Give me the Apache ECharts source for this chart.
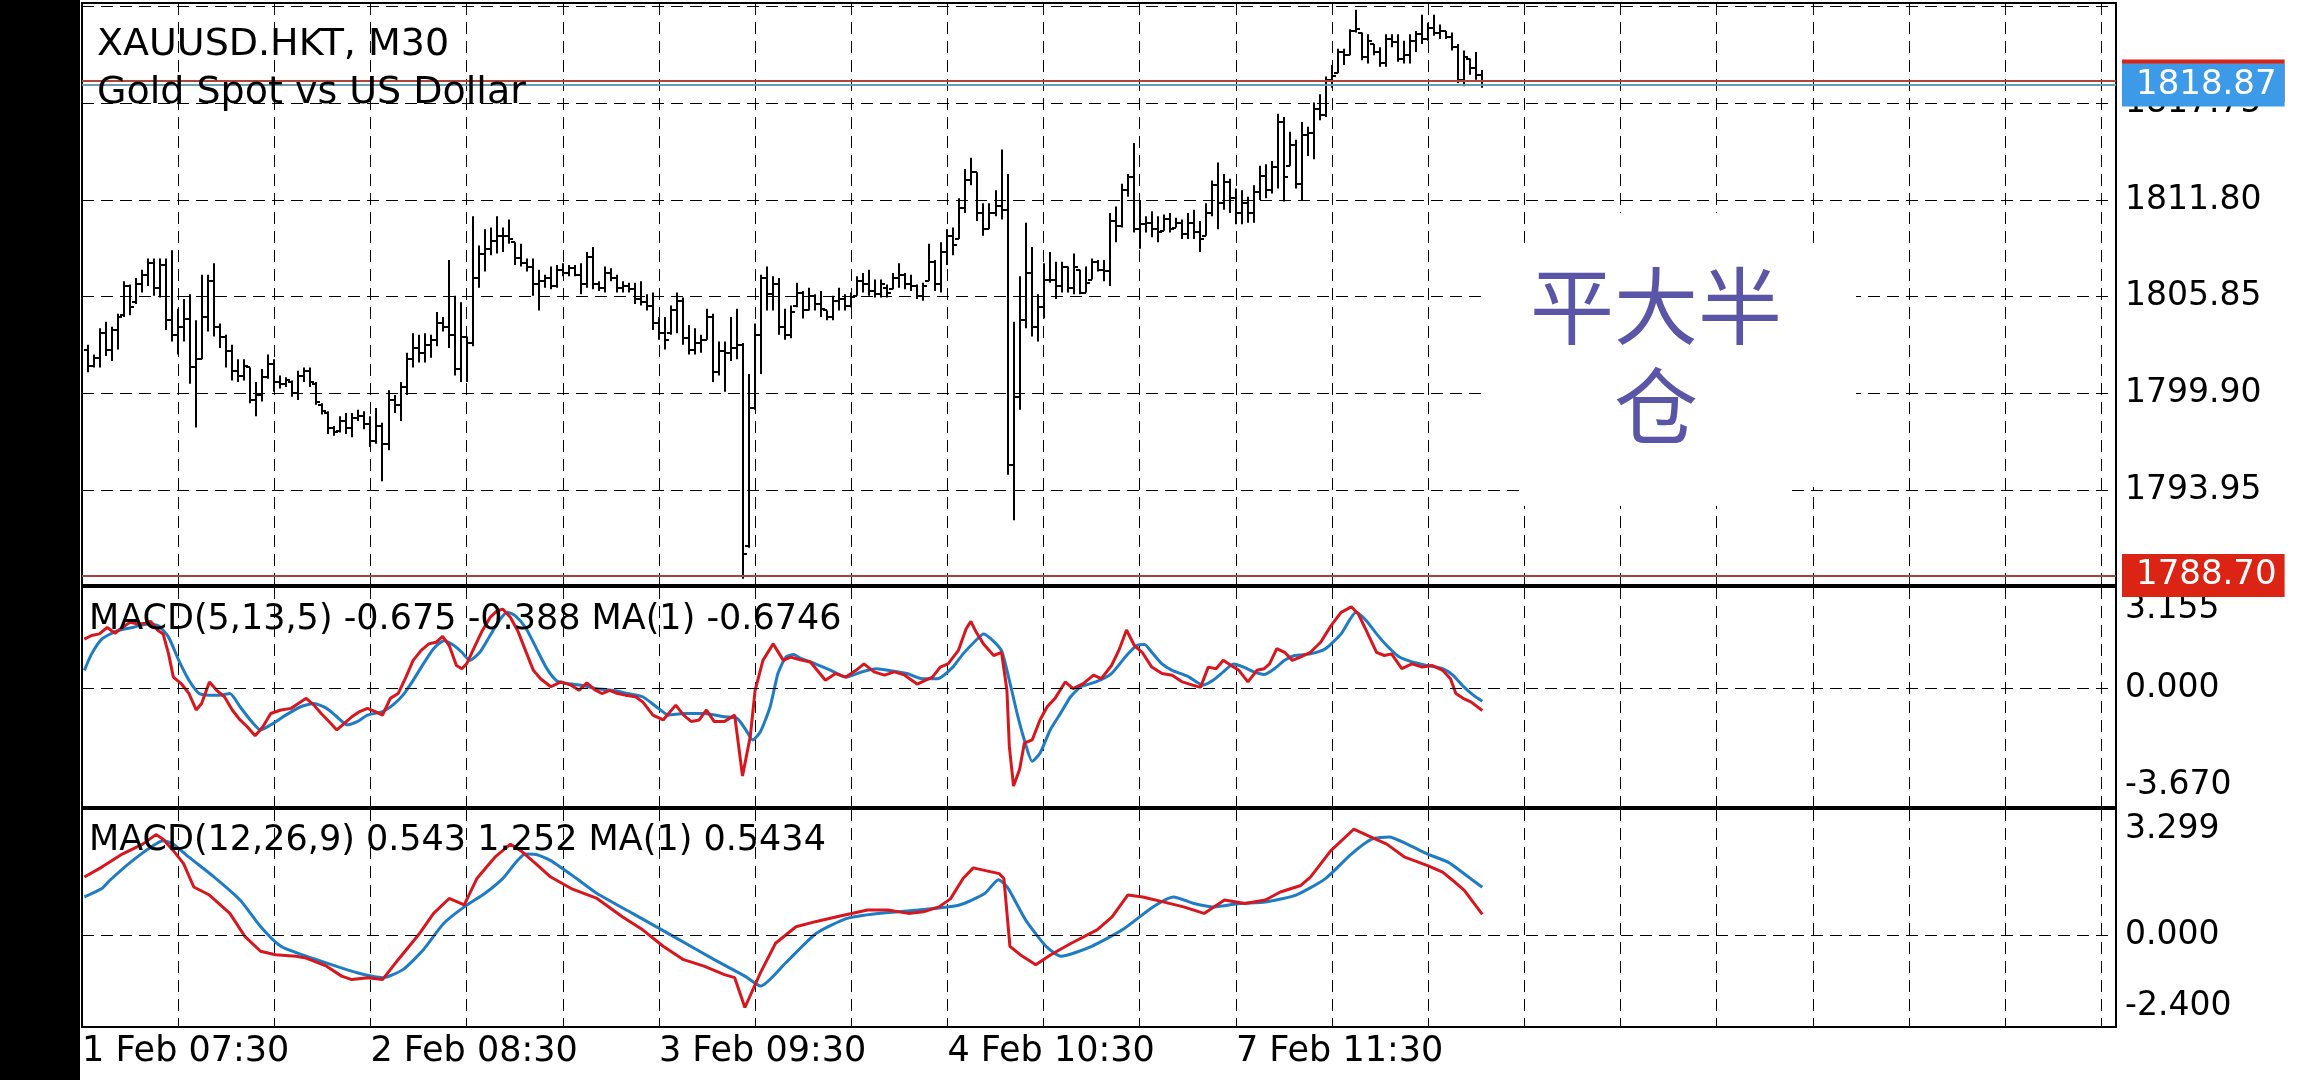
<!DOCTYPE html>
<html><head><meta charset="utf-8">
<script src="https://cdn.jsdelivr.net/npm/echarts@6/dist/echarts.min.js"></script>
<style>html,body{margin:0;padding:0;background:#fff;}#c{width:2312px;height:1080px;}</style>
</head><body><div id="c"></div>
<script>
// ---- data (M30 bars, index 0 = 1 Feb 07:30) ----
const barStart = 1;
const opens = [
1802.6,1801.6,1802.1,1803.6,1802.6,1803.8,1804.7,1806.5,1805.5,1806.6,
1807.2,1807.9,1806.4,1807.8,1804.4,1803.5,1804.0,1804.5,1801.5,1802.0,
1804.6,1806.8,1804.0,1803.4,1802.5,1801.3,1801.0,1801.5,1799.5,1799.8,
1800.9,1801.7,1800.6,1800.5,1800.6,1799.9,1801.0,1801.3,1800.5,1799.2,
1798.7,1797.8,1797.6,1798.2,1797.8,1798.4,1798.5,1798.0,1797.0,1797.9,
1796.8,1799.5,1799.2,1800.3,1802.0,1802.7,1802.4,1802.9,1803.2,1804.2,
1804.0,1803.5,1801.4,1803.4,1803.0,1807.0,1808.5,1808.8,1809.3,1809.6,
1809.6,1809.2,1808.2,1807.9,1807.7,1806.6,1806.8,1807.0,1806.5,1807.5,
1807.3,1807.6,1807.2,1806.6,1808.3,1806.6,1806.4,1807.3,1807.0,1806.4,
1806.5,1806.3,1805.7,1805.5,1805.3,1804.2,1803.6,1803.6,1805.0,1805.6,
1803.3,1802.6,1803.0,1803.2,1804.6,1801.2,1802.5,1802.4,1802.7,1802.9,
1790.5,1799.0,1803.5,1807.0,1806.0,1806.6,1804.0,1803.5,1805.3,1806.1,
1805.0,1805.9,1805.4,1805.0,1804.6,1805.6,1805.7,1805.3,1805.9,1806.8,
1806.6,1806.2,1806.0,1806.4,1806.3,1807.0,1807.2,1806.6,1806.5,1805.9,
1806.8,1808.0,1806.6,1808.6,1809.6,1809.4,1811.3,1813.0,1813.5,1811.0,
1810.0,1811.0,1811.4,1811.2,1795.5,1799.7,1804.4,1807.3,1804.0,1805.2,
1806.9,1806.9,1806.5,1807.7,1806.4,1807.5,1806.1,1806.9,1808.0,1807.5,
1807.4,1810.5,1810.2,1812.4,1813.2,1810.0,1810.3,1810.4,1810.0,1809.9,
1810.6,1810.1,1810.4,1809.7,1810.4,1809.8,1809.6,1811.0,1812.7,1811.6,
1812.9,1811.9,1811.0,1811.6,1811.0,1812.3,1813.3,1812.4,1813.8,1816.6,
1813.9,1815.2,1812.8,1815.8,1815.9,1817.4,1817.0,1819.2,1819.6,1820.9,
1820.7,1822.2,1822.1,1820.6,1821.4,1820.9,1820.2,1821.7,1821.5,1820.5,
1820.7,1821.6,1822.0,1821.7,1822.4,1822.1,1822.2,1821.8,1821.2,1819.2,
1820.5,1819.9,1819.5];
const highs = [
1802.9,1802.3,1803.9,1804.3,1804.0,1804.8,1806.8,1806.6,1807.0,1807.5,
1808.2,1808.2,1808.2,1808.2,1808.7,1805.1,1805.7,1806.0,1804.4,1807.2,
1807.2,1807.9,1804.2,1803.5,1802.9,1802.0,1802.0,1801.5,1800.6,1801.4,
1802.3,1802.0,1801.0,1800.9,1800.7,1801.3,1801.5,1801.5,1800.6,1799.3,
1798.8,1797.9,1798.5,1798.7,1798.7,1798.9,1798.8,1798.5,1799.0,1798.1,
1800.1,1799.8,1800.6,1802.4,1803.6,1803.5,1803.6,1803.5,1804.9,1804.6,
1808.1,1805.9,1805.5,1803.4,1810.8,1809.0,1810.0,1810.1,1810.8,1810.1,
1810.6,1809.2,1809.1,1808.2,1808.2,1807.5,1807.2,1807.7,1807.8,1807.9,
1807.8,1807.8,1807.9,1808.6,1808.9,1806.8,1807.7,1807.6,1807.2,1806.8,
1806.7,1806.7,1806.8,1806.0,1806.1,1804.6,1804.6,1805.3,1806.1,1805.8,
1804.1,1803.9,1803.5,1805.1,1804.8,1803.1,1803.1,1804.6,1805.1,1803.0,
1801.1,1804.2,1807.2,1807.7,1807.1,1807.0,1805.1,1805.3,1806.7,1806.2,
1806.4,1806.0,1806.2,1805.0,1805.9,1806.4,1806.0,1806.1,1807.1,1807.3,
1807.5,1806.9,1806.9,1806.6,1807.3,1807.9,1807.3,1807.2,1806.6,1806.7,
1809.1,1808.1,1809.2,1810.0,1810.1,1811.9,1813.7,1814.4,1813.5,1811.6,
1811.6,1812.4,1814.9,1813.4,1804.3,1807.1,1810.4,1808.9,1806.0,1807.9,
1808.6,1808.0,1808.0,1807.7,1808.5,1807.5,1807.7,1808.2,1808.1,1808.1,
1811.0,1811.4,1812.8,1813.4,1815.3,1811.8,1810.8,1811.1,1810.8,1810.9,
1811.0,1810.7,1810.6,1811.0,1811.2,1810.5,1811.6,1813.0,1814.1,1813.4,
1813.1,1812.5,1812.4,1812.0,1812.7,1813.9,1814.0,1814.2,1817.1,1816.9,
1816.0,1815.5,1816.6,1816.3,1817.8,1818.3,1819.4,1820.1,1821.1,1821.1,
1822.3,1823.5,1822.1,1822.0,1821.4,1821.2,1822.0,1822.0,1822.0,1821.6,
1822.0,1822.2,1823.2,1822.7,1823.2,1822.6,1822.2,1822.1,1821.4,1821.0,
1820.5,1820.9,1819.8];
const lows = [
1801.2,1801.5,1801.5,1802.2,1801.9,1802.6,1804.6,1804.7,1805.4,1806.1,
1806.5,1805.9,1805.8,1803.8,1803.1,1802.3,1803.1,1800.5,1797.8,1802.0,
1803.7,1803.4,1802.7,1801.5,1800.7,1800.6,1800.7,1799.3,1798.5,1799.4,
1800.8,1800.0,1800.2,1800.3,1799.7,1799.5,1800.6,1800.3,1799.2,1798.6,
1797.4,1797.3,1797.5,1797.4,1797.2,1798.2,1797.7,1796.6,1796.8,1794.5,
1796.4,1798.7,1798.2,1799.8,1801.5,1801.8,1801.8,1802.1,1802.8,1803.7,
1802.7,1801.0,1800.6,1800.6,1802.8,1806.4,1807.4,1808.4,1808.5,1808.6,
1809.1,1807.8,1807.7,1807.4,1805.9,1805.0,1806.4,1806.3,1806.4,1807.1,
1807.1,1807.1,1806.0,1806.4,1806.3,1806.2,1806.1,1806.8,1806.1,1806.1,
1806.1,1805.4,1805.3,1805.0,1803.8,1803.2,1802.6,1803.5,1803.6,1802.9,
1802.3,1802.3,1802.4,1803.2,1800.6,1801.0,1800.0,1801.9,1802.0,1788.5,
1790.4,1798.9,1801.1,1805.0,1805.0,1803.5,1803.2,1803.3,1805.2,1804.5,
1805.0,1805.0,1804.6,1804.4,1804.4,1805.0,1805.0,1805.2,1805.9,1806.1,
1805.9,1805.8,1805.8,1805.8,1806.3,1806.4,1806.3,1806.2,1805.7,1805.6,
1806.8,1806.2,1806.1,1807.8,1808.4,1809.4,1811.0,1812.7,1810.5,1809.6,
1810.0,1810.8,1810.6,1794.9,1792.1,1798.9,1803.9,1803.4,1803.1,1804.5,
1806.7,1805.7,1806.1,1806.1,1806.0,1806.0,1806.1,1806.9,1807.4,1806.8,
1806.5,1809.2,1810.1,1812.0,1809.8,1808.8,1809.8,1809.5,1809.2,1809.9,
1809.8,1810.1,1809.4,1809.4,1809.4,1808.6,1809.6,1810.8,1810.0,1811.2,
1811.0,1810.3,1810.3,1810.4,1810.4,1811.8,1811.9,1812.2,1812.5,1811.7,
1813.9,1812.5,1811.8,1814.5,1814.3,1816.7,1816.9,1818.7,1819.6,1820.1,
1820.7,1822.1,1820.4,1820.2,1820.7,1820.0,1820.0,1821.2,1820.3,1820.2,
1820.2,1820.9,1821.4,1821.6,1821.9,1821.7,1821.7,1821.0,1819.0,1818.8,
1819.5,1819.2,1818.7];
const closes = [
1801.6,1802.1,1803.6,1802.6,1803.8,1804.6,1806.5,1805.2,1806.6,1807.2,
1807.9,1806.4,1807.8,1804.4,1803.5,1804.0,1804.5,1801.5,1802.0,1804.6,
1806.8,1804.0,1803.4,1802.5,1801.3,1801.0,1801.6,1799.5,1799.8,1800.9,
1801.7,1800.6,1800.5,1800.7,1799.9,1801.0,1801.3,1800.6,1799.4,1798.8,
1797.8,1797.5,1798.2,1797.8,1798.4,1798.5,1798.0,1797.0,1797.9,1796.8,
1799.5,1799.2,1800.3,1802.0,1802.7,1802.4,1802.9,1803.2,1804.2,1804.0,
1803.5,1801.4,1803.4,1803.0,1807.0,1808.5,1808.8,1809.3,1809.6,1809.6,
1809.4,1808.2,1807.9,1807.7,1806.6,1806.8,1807.0,1806.5,1807.5,1807.3,
1807.6,1807.2,1806.6,1808.3,1806.6,1806.4,1807.3,1807.0,1806.4,1806.5,
1806.3,1805.7,1805.5,1805.3,1804.2,1803.6,1803.2,1805.0,1805.6,1803.3,
1802.6,1803.0,1803.2,1804.6,1801.2,1802.5,1802.4,1802.7,1802.9,1790.0,
1799.0,1803.5,1807.0,1806.0,1806.6,1804.0,1803.5,1804.9,1806.1,1805.0,
1805.9,1805.4,1805.1,1804.6,1805.6,1805.7,1805.3,1805.8,1806.8,1806.6,
1806.2,1806.0,1806.6,1806.1,1807.0,1807.2,1806.6,1806.5,1805.9,1806.5,
1808.0,1806.6,1808.6,1809.6,1809.0,1811.3,1813.0,1813.5,1811.0,1810.0,
1811.0,1811.4,1811.2,1795.5,1799.7,1804.4,1807.3,1804.0,1805.2,1806.9,
1806.9,1806.5,1807.7,1806.4,1807.7,1806.1,1806.7,1808.0,1807.5,1807.4,
1810.5,1810.2,1812.4,1813.2,1810.0,1810.3,1810.4,1810.0,1809.8,1810.6,
1810.0,1810.4,1809.7,1810.4,1809.8,1809.4,1811.0,1812.7,1811.6,1812.9,
1811.9,1811.0,1811.6,1811.0,1812.3,1813.3,1812.4,1813.8,1816.6,1813.2,
1815.2,1812.8,1815.8,1815.9,1817.4,1817.0,1819.2,1819.4,1820.9,1820.7,
1822.2,1822.3,1820.6,1821.6,1820.9,1820.2,1821.7,1821.5,1820.5,1820.7,
1821.6,1822.0,1821.7,1822.4,1822.1,1822.2,1821.8,1821.2,1819.2,1820.6,
1819.9,1819.5,1818.87];

const timeLabels = ['1 Feb 07:30','2 Feb 08:30','3 Feb 09:30','4 Feb 10:30','7 Feb 11:30'];
const timeLabelBars = [0,48,96,144,192];
const priceGrid = [1793.95,1799.90,1805.85,1811.80,1817.75,1823.70];
const priceLabelled = [1793.95,1799.90,1805.85,1811.80,1817.75];
const bidPrice = 1818.87;
const askPrice = 1819.12;
const lowLevel = 1788.70;
const macd1Range = [-3.670, 3.155];
const macd2Range = [-2.400, 3.299];

// MACD(5,13,5): [bar, value]
const macd1Main = [[0.4,1.54],[1.6,1.65],[2.9,1.70],[4.2,1.90],[5.5,1.72],[6.7,1.90],[8.0,2.06],[9.3,2.01],[10.6,2.03],[11.4,2.09],[12.7,1.80],[13.5,1.70],[14.4,1.08],[15.2,0.36],[16.5,0.16],[17.8,-0.15],[19.0,-0.66],[19.9,-0.46],[21.2,0.21],[22.4,-0.05],[23.7,-0.25],[25.0,-0.66],[26.3,-0.97],[27.5,-1.18],[28.8,-1.46],[30.1,-1.18],[31.4,-0.77],[33.1,-0.66],[34.8,-0.61],[36.0,-0.46],[37.3,-0.30],[38.6,-0.51],[39.8,-0.77],[41.1,-1.02],[42.4,-1.28],[43.7,-1.07],[44.9,-0.87],[46.2,-0.71],[47.5,-0.61],[48.8,-0.71],[50.0,-0.82],[51.3,-0.30],[52.6,-0.15],[53.9,0.36],[55.1,0.88],[56.4,1.18],[57.7,1.39],[58.9,1.44],[60.0,1.62],[61.1,1.34],[62.3,0.72],[63.2,0.62],[64.0,0.77],[65.3,1.29],[66.6,1.80],[67.9,2.21],[69.1,2.42],[70.0,2.47],[71.3,2.21],[72.5,1.80],[73.8,1.18],[75.1,0.57],[76.3,0.31],[78.0,0.06],[79.7,0.21],[81.4,0.11],[82.7,-0.05],[84.0,0.18],[85.3,-0.03],[86.5,-0.15],[87.8,-0.05],[89.1,-0.15],[90.4,-0.20],[92.1,-0.25],[93.3,-0.41],[95.0,-0.82],[96.7,-0.97],[97.6,-0.77],[98.8,-0.51],[100.1,-0.82],[101.4,-1.02],[102.7,-0.97],[103.9,-0.66],[105.2,-1.02],[106.9,-1.02],[108.6,-0.82],[109.9,-2.71],[111.2,-1.48],[112.0,-0.05],[113.3,0.88],[115.0,1.39],[116.7,0.88],[117.9,0.98],[119.5,0.90],[121.2,0.83],[123.7,0.26],[125.4,0.47],[127.1,0.36],[128.8,0.57],[130.1,0.77],[131.8,0.52],[133.5,0.42],[135.2,0.52],[136.9,0.42],[139.0,0.14],[140.3,0.26],[141.5,0.36],[142.8,0.67],[144.1,0.77],[145.8,1.18],[147.1,1.85],[147.9,2.09],[148.8,1.75],[150.0,1.39],[151.7,1.03],[153.0,1.13],[153.9,-0.05],[154.3,-1.79],[155.0,-3.02],[156.0,-2.51],[156.8,-1.69],[158.1,-1.59],[159.4,-0.97],[160.6,-0.56],[161.9,-0.30],[163.6,0.21],[164.9,0.00],[166.6,0.16],[168.3,0.42],[169.6,0.31],[171.3,0.72],[172.5,1.18],[173.8,1.82],[175.1,1.34],[176.4,1.13],[178.0,0.67],[179.7,0.47],[181.4,0.42],[183.1,0.21],[184.8,0.11],[186.1,0.04],[187.4,0.67],[188.7,0.62],[189.9,0.88],[191.2,0.72],[192.5,0.57],[194.0,0.21],[195.5,0.57],[196.7,0.62],[197.6,0.77],[198.8,1.24],[200.1,1.13],[201.4,0.88],[202.7,0.98],[204.4,1.13],[206.1,1.44],[207.8,1.95],[209.5,2.37],[211.2,2.54],[212.4,2.31],[213.7,1.80],[215.4,1.13],[216.7,1.03],[217.9,1.08],[219.6,0.62],[221.3,0.77],[223.0,0.67],[224.7,0.72],[226.4,0.57],[227.7,0.31],[228.6,-0.15],[229.8,-0.30],[231.1,-0.41],[233.0,-0.675]];
const macd1Signal = [[0.4,0.57],[1.6,1.08],[3.3,1.54],[5.9,1.80],[8.4,1.90],[11.0,2.01],[12.7,1.95],[14.4,1.60],[16.1,0.88],[17.8,0.26],[19.5,-0.15],[21.2,-0.20],[22.9,-0.20],[24.6,-0.15],[26.3,-0.56],[28.0,-0.97],[29.7,-1.28],[31.4,-1.12],[33.9,-0.82],[36.4,-0.56],[38.6,-0.46],[40.7,-0.61],[42.4,-0.87],[44.1,-1.12],[45.8,-1.02],[47.5,-0.82],[50.0,-0.71],[51.7,-0.51],[53.4,-0.20],[55.1,0.26],[56.8,0.77],[58.5,1.24],[60.2,1.49],[61.9,1.34],[63.2,1.13],[64.5,0.88],[66.2,1.13],[67.9,1.65],[69.6,2.16],[70.8,2.37],[72.1,2.26],[73.8,1.90],[75.5,1.29],[77.2,0.67],[78.9,0.26],[80.6,0.16],[83.1,0.11],[85.7,0.00],[88.2,-0.05],[90.8,-0.15],[93.3,-0.25],[95.9,-0.61],[97.6,-0.82],[100.1,-0.77],[103.5,-0.77],[106.9,-0.87],[109.0,-0.92],[110.3,-1.23],[111.6,-1.59],[112.9,-1.33],[114.5,-0.56],[115.8,0.47],[117.1,0.98],[118.4,1.06],[119.5,0.95],[122.0,0.77],[124.6,0.57],[127.1,0.36],[129.7,0.52],[132.2,0.62],[134.8,0.55],[137.3,0.47],[139.8,0.31],[142.4,0.31],[144.9,0.67],[146.6,1.08],[148.8,1.51],[150.0,1.70],[151.3,1.54],[153.0,1.18],[154.3,0.26],[155.6,-0.77],[156.8,-1.59],[158.1,-2.25],[159.4,-2.00],[161.1,-1.28],[162.8,-0.77],[164.5,-0.25],[166.2,0.06],[168.7,0.21],[171.3,0.47],[173.8,1.03],[175.5,1.34],[176.8,1.37],[178.0,1.13],[179.7,0.77],[181.4,0.57],[184.0,0.38],[186.5,0.11],[188.2,0.26],[189.9,0.52],[191.6,0.77],[193.3,0.67],[195.0,0.52],[196.7,0.44],[198.4,0.62],[200.1,0.88],[201.8,1.03],[204.4,1.08],[206.9,1.24],[209.5,1.70],[212.0,2.37],[213.7,2.11],[215.4,1.70],[217.1,1.34],[219.2,0.98],[221.3,0.83],[223.9,0.72],[226.4,0.62],[228.1,0.42],[229.8,0.08],[231.5,-0.20],[233.0,-0.388]];
// MACD(12,26,9): [bar, value]
const macd2Main = [[0.4,1.52],[3.3,1.78],[6.7,2.12],[10.1,2.38],[12.3,2.63],[13.5,2.51],[15.2,2.21],[16.9,1.87],[18.6,1.26],[21.2,1.05],[24.6,0.57],[27.1,-0.03],[29.7,-0.42],[32.2,-0.51],[35.6,-0.55],[37.3,-0.60],[40.7,-0.81],[43.2,-1.07],[44.9,-1.16],[47.5,-1.11],[50.0,-1.16],[52.6,-0.64],[56.0,0.01],[58.5,0.57],[61.1,0.96],[63.6,0.79],[65.7,1.48],[68.7,2.04],[71.3,2.38],[73.0,2.21],[75.5,1.87],[78.0,1.52],[81.4,1.22],[85.7,0.96],[89.9,0.48],[93.3,0.14],[96.7,-0.29],[100.1,-0.64],[103.5,-0.81],[106.9,-1.03],[108.6,-1.11],[110.3,-1.89],[112.9,-0.98],[115.4,-0.21],[118.8,0.22],[122.2,0.36],[125.6,0.48],[130.7,0.66],[134.1,0.66],[137.5,0.57],[140.0,0.61],[142.6,0.74],[144.5,0.95],[146.6,1.48],[148.3,1.76],[152.6,1.61],[153.4,1.48],[154.4,-0.29],[156.1,-0.51],[158.7,-0.77],[161.2,-0.51],[164.6,-0.21],[168.9,0.14],[171.4,0.48],[174.0,1.05],[176.5,1.00],[179.9,0.87],[183.3,0.74],[186.7,0.57],[190.1,0.92],[193.5,0.83],[196.9,0.92],[199.4,1.13],[202.8,1.30],[204.4,1.52],[207.8,2.21],[211.6,2.77],[214.6,2.56],[217.1,2.38],[220.1,2.04],[223.9,1.82],[226.4,1.65],[228.1,1.43],[230.0,1.17],[233.0,0.543]];
const macd2Signal = [[0.4,1.00],[3.3,1.22],[4.6,1.43],[8.4,1.95],[11.8,2.34],[13.5,2.47],[15.2,2.38],[17.8,2.04],[22.0,1.52],[26.3,0.92],[29.7,0.23],[33.1,-0.29],[37.3,-0.55],[41.5,-0.77],[45.8,-0.98],[50.0,-1.11],[53.4,-0.90],[56.8,-0.38],[60.2,0.31],[63.6,0.74],[67.0,1.09],[70.0,1.48],[73.8,2.12],[75.5,2.11],[78.0,1.95],[82.3,1.48],[85.7,1.09],[91.6,0.57],[98.4,-0.03],[105.2,-0.64],[110.3,-1.07],[112.9,-1.33],[117.1,-0.72],[122.2,0.05],[127.3,0.44],[132.4,0.57],[139.2,0.66],[146.0,0.79],[150.2,1.09],[152.5,1.45],[154.0,1.25],[157.0,0.40],[160.4,-0.29],[162.9,-0.55],[168.0,-0.29],[173.1,0.14],[178.2,0.74],[181.6,1.00],[185.0,0.83],[188.4,0.74],[192.6,0.83],[196.9,0.87],[202.0,1.05],[206.9,1.48],[211.2,2.12],[214.6,2.51],[217.5,2.57],[220.5,2.38],[223.9,2.12],[227.3,1.91],[230.7,1.52],[233.0,1.252]];

// ---- chart ----
const FONT = 'DejaVu Sans';
const X_MAX = 338.44;
const bars = opens.map((o, k) => [k + barStart, o, highs[k], lows[k], closes[k]]);
const dash = [12, 7];

function renderOHLC(params, api) {
  const i = api.value(0);
  const pO = api.coord([i, api.value(1)]);
  const pH = api.coord([i, api.value(2)]);
  const pL = api.coord([i, api.value(3)]);
  const pC = api.coord([i, api.value(4)]);
  const x = Math.round(pO[0]);
  const st = { stroke: '#000', lineWidth: 2 };
  const yo = Math.round(pO[1]), yc = Math.round(pC[1]);
  return { type: 'group', children: [
    { type: 'line', shape: { x1: x, y1: pH[1], x2: x, y2: pL[1] }, style: st },
    { type: 'line', shape: { x1: x - 4, y1: yo, x2: x, y2: yo }, style: st },
    { type: 'line', shape: { x1: x, y1: yc, x2: x + 4, y2: yc }, style: st }
  ]};
}

function xAxisFor(gi, withLabels) {
  return {
    type: 'value', gridIndex: gi, min: 0, max: X_MAX, interval: 16,
    axisLine: { show: false }, axisTick: { show: false },
    axisLabel: withLabels ? {
      show: true, showMinLabel: true, showMaxLabel: false,
      align: 'left', verticalAlign: 'middle', margin: 25,
      fontFamily: FONT, fontSize: 35, color: '#000',
      formatter: v => { const k = timeLabelBars.indexOf(v); return k >= 0 ? timeLabels[k] : ''; }
    } : { show: false },
    splitLine: { show: true, lineStyle: { color: '#000', width: 1, type: dash } }
  };
}
function priceYAxis(mn, mx) {
  return { type: 'value', gridIndex: 0, min: mn, max: mx, position: 'right', scale: true,
    axisLine: { show: false }, axisTick: { show: false }, axisLabel: { show: false }, splitLine: { show: false } };
}
// indicator panes: ticks only at pane min and max; max label drawn just below the top edge,
// min label just above the bottom edge (multi-line trick)
function macdYAxis(gi, range, lh) {
  const [mn, mx] = range;
  return { type: 'value', gridIndex: gi, min: mn, max: mx, interval: mx - mn, position: 'right',
    axisLine: { show: false }, axisTick: { show: false }, splitLine: { show: false },
    axisLabel: { show: true, showMinLabel: true, showMaxLabel: true, margin: 9, align: 'left',
      fontFamily: FONT, fontSize: 33, color: '#000', lineHeight: lh,
      formatter: v => Math.abs(v - mx) < 1e-3 ? ' \n' + mx.toFixed(3)
                    : Math.abs(v - mn) < 1e-3 ? mn.toFixed(3) + '\n ' : '' } };
}
const axisLbl = { show: true, position: 'end', distance: 9, color: '#000', fontFamily: FONT, fontSize: 33 };
function tag(value, bg, pad) {
  return { show: true, position: 'end', distance: 6, color: '#fff', fontFamily: FONT, fontSize: 34,
    backgroundColor: bg, padding: pad || [5, 8, 4, 14], formatter: value.toFixed(2) };
}

const option = {
  animation: false,
  backgroundColor: '#fff',
  textStyle: { fontFamily: FONT },
  grid: [
    { left: 82, top: 3, width: 2034, height: 582, show: true, borderColor: '#000', borderWidth: 2 },
    { left: 82, top: 587, width: 2034, height: 220, show: true, borderColor: '#000', borderWidth: 2 },
    { left: 82, top: 809, width: 2034, height: 218, show: true, borderColor: '#000', borderWidth: 2 }
  ],
  xAxis: [xAxisFor(0, false), xAxisFor(1, false), xAxisFor(2, true)],
  yAxis: [priceYAxis(1788.11, 1823.92), macdYAxis(1, macd1Range, 44), macdYAxis(2, macd2Range, 41)],
  series: [
    { // price grid lines + labels
      type: 'line', xAxisIndex: 0, yAxisIndex: 0, data: [], z: 1,
      markLine: { silent: true, symbol: ['none', 'none'], animation: false,
        lineStyle: { color: '#000', width: 1, type: dash },
        label: Object.assign({}, axisLbl, { formatter: p => p.value.toFixed(2) }),
        data: priceGrid.map(v => ({ yAxis: v, label: { show: priceLabelled.includes(v) } })) }
    },
    { // OHLC bars
      type: 'custom', name: 'XAUUSD', xAxisIndex: 0, yAxisIndex: 0, z: 3, clip: true,
      renderItem: renderOHLC, encode: { x: 0, y: [1, 2, 3, 4] }, data: bars
    },
    { // level lines and price tags
      type: 'line', xAxisIndex: 0, yAxisIndex: 0, data: [], z: 5,
      markLine: { silent: true, symbol: ['none', 'none'], animation: false,
        data: [
          { yAxis: lowLevel, lineStyle: { color: '#a3453b', width: 2, type: 'solid' }, label: tag(lowLevel, '#dc2414', [5, 8, 4, 14]) },
          { yAxis: askPrice, lineStyle: { color: '#ad4538', width: 2, type: 'solid' }, label: tag(askPrice, '#dc2414') },
          { yAxis: bidPrice, lineStyle: { color: '#6a9db3', width: 2, type: 'solid' }, label: tag(bidPrice, '#3d9ae8') }
        ] }
    },
    { // MACD1 zero line
      type: 'line', xAxisIndex: 1, yAxisIndex: 1, data: [], z: 1,
      markLine: { silent: true, symbol: ['none', 'none'], animation: false,
        lineStyle: { color: '#000', width: 1, type: dash },
        data: [{ yAxis: 0, label: Object.assign({}, axisLbl, { formatter: '0.000' }) }] }
    },
    { type: 'line', name: 'MACD(5,13,5) signal', xAxisIndex: 1, yAxisIndex: 1, data: macd1Signal, z: 3,
      showSymbol: false, symbol: 'none', smooth: 0.2, lineStyle: { color: '#1f7bc4', width: 3 } },
    { type: 'line', name: 'MACD(5,13,5)', xAxisIndex: 1, yAxisIndex: 1, data: macd1Main, z: 4,
      showSymbol: false, symbol: 'none', lineStyle: { color: '#d8161d', width: 3 } },
    { // MACD2 zero line
      type: 'line', xAxisIndex: 2, yAxisIndex: 2, data: [], z: 1,
      markLine: { silent: true, symbol: ['none', 'none'], animation: false,
        lineStyle: { color: '#000', width: 1, type: dash },
        data: [{ yAxis: 0, label: Object.assign({}, axisLbl, { formatter: '0.000' }) }] }
    },
    { type: 'line', name: 'MACD(12,26,9) signal', xAxisIndex: 2, yAxisIndex: 2, data: macd2Signal, z: 3,
      showSymbol: false, symbol: 'none', smooth: 0.2, lineStyle: { color: '#1f7bc4', width: 3 } },
    { type: 'line', name: 'MACD(12,26,9)', xAxisIndex: 2, yAxisIndex: 2, data: macd2Main, z: 4,
      showSymbol: false, symbol: 'none', lineStyle: { color: '#d8161d', width: 3 } }
  ],
  graphic: [
    { type: 'rect', z: 200, shape: { x: 0, y: 0, width: 80, height: 1080 }, style: { fill: '#000' } },
    { type: 'rect', z: 150, shape: { x: 1482, y: 243, width: 374, height: 244 }, style: { fill: '#fff' } },
    { type: 'rect', z: 150, shape: { x: 1560, y: 213, width: 230, height: 31 }, style: { fill: '#fff' } },
    { type: 'rect', z: 150, shape: { x: 1524, y: 486, width: 266, height: 20 }, style: { fill: '#fff' } },
    { type: 'text', z: 160, style: { text: '平大半', x: 1656, y: 306, align: 'center', verticalAlign: 'middle',
        font: '84px "Noto Sans CJK SC"', fill: '#5a55a6' } },
    { type: 'text', z: 160, style: { text: '仓', x: 1656, y: 406, align: 'center', verticalAlign: 'middle',
        font: '84px "Noto Sans CJK SC"', fill: '#5a55a6' } },
    { type: 'text', z: 160, style: { text: 'XAUUSD.HKT, M30', x: 97, y: 45, verticalAlign: 'middle',
        font: '38px "DejaVu Sans"', fill: '#000' } },
    { type: 'text', z: 160, style: { text: 'Gold Spot vs US Dollar', x: 97, y: 93, verticalAlign: 'middle',
        font: '38px "DejaVu Sans"', fill: '#000' } },
    { type: 'text', z: 160, style: { text: 'MACD(5,13,5) -0.675 -0.388 MA(1) -0.6746', x: 89, y: 620, verticalAlign: 'middle',
        font: '35px "DejaVu Sans"', fill: '#000' } },
    { type: 'text', z: 160, style: { text: 'MACD(12,26,9) 0.543 1.252 MA(1) 0.5434', x: 89, y: 841, verticalAlign: 'middle',
        font: '35px "DejaVu Sans"', fill: '#000' } }
  ]
};

const chart = echarts.init(document.getElementById('c'), null, { renderer: 'canvas', width: 2312, height: 1080 });
chart.setOption(option);
</script>
</body></html>
